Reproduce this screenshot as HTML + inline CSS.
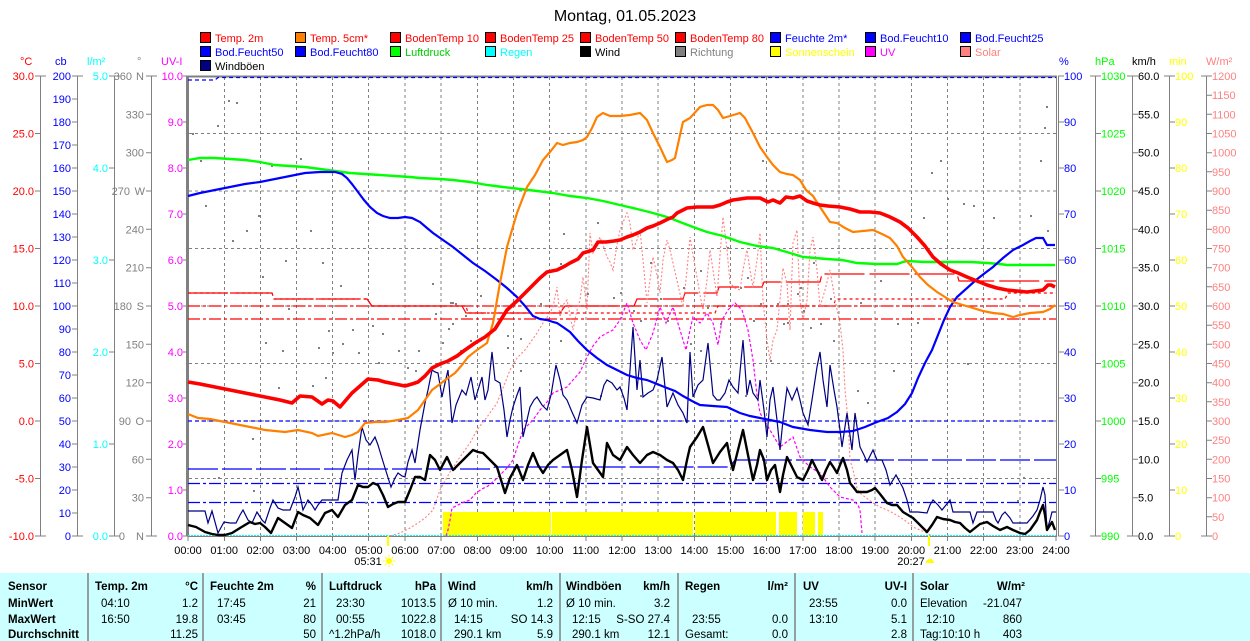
<!DOCTYPE html>
<html><head><meta charset="utf-8"><style>
html,body{margin:0;padding:0;background:#fff;}
svg{display:block;}
text{font-family:"Liberation Sans",Arial,sans-serif;}
</style></head><body>
<svg width="1250" height="641" viewBox="0 0 1250 641" xmlns="http://www.w3.org/2000/svg">
<rect width="1250" height="641" fill="#fff"/>
<!-- Title -->
<text x="625" y="21" font-size="16" text-anchor="middle" fill="#000">Montag, 01.05.2023</text>

<!-- Legend -->
<g font-size="11" stroke-width="1">
<rect x="200.5" y="32.5" width="10" height="10" fill="#f00" stroke="#000"/><text x="215" y="42" fill="#f00">Temp. 2m</text>
<rect x="295.5" y="32.5" width="10" height="10" fill="#ff8000" stroke="#000"/><text x="310" y="42" fill="#f00">Temp. 5cm*</text>
<rect x="390.5" y="32.5" width="10" height="10" fill="#f00" stroke="#000"/><text x="405" y="42" fill="#f00">BodenTemp 10</text>
<rect x="485.5" y="32.5" width="10" height="10" fill="#f00" stroke="#000"/><text x="500" y="42" fill="#f00">BodenTemp 25</text>
<rect x="580.5" y="32.5" width="10" height="10" fill="#f00" stroke="#000"/><text x="595" y="42" fill="#f00">BodenTemp 50</text>
<rect x="675.5" y="32.5" width="10" height="10" fill="#f00" stroke="#000"/><text x="690" y="42" fill="#f00">BodenTemp 80</text>
<rect x="770.5" y="32.5" width="10" height="10" fill="#00f" stroke="#000"/><text x="785" y="42" fill="#00f">Feuchte 2m*</text>
<rect x="865.5" y="32.5" width="10" height="10" fill="#00f" stroke="#000"/><text x="880" y="42" fill="#00f">Bod.Feucht10</text>
<rect x="960.5" y="32.5" width="10" height="10" fill="#00f" stroke="#000"/><text x="975" y="42" fill="#00f">Bod.Feucht25</text>

<rect x="200.5" y="46.5" width="10" height="10" fill="#00f" stroke="#000"/><text x="215" y="56" fill="#00f">Bod.Feucht50</text>
<rect x="295.5" y="46.5" width="10" height="10" fill="#00f" stroke="#000"/><text x="310" y="56" fill="#00f">Bod.Feucht80</text>
<rect x="390.5" y="46.5" width="10" height="10" fill="#0f0" stroke="#000"/><text x="405" y="56" fill="#0c0">Luftdruck</text>
<rect x="485.5" y="46.5" width="10" height="10" fill="#0ff" stroke="#000"/><text x="500" y="56" fill="#0ff">Regen</text>
<rect x="580.5" y="46.5" width="10" height="10" fill="#000" stroke="#000"/><text x="595" y="56" fill="#000">Wind</text>
<rect x="675.5" y="46.5" width="10" height="10" fill="#808080" stroke="#000"/><text x="690" y="56" fill="#808080">Richtung</text>
<rect x="770.5" y="46.5" width="10" height="10" fill="#ff0" stroke="#000"/><text x="785" y="56" fill="#ff0">Sonnenschein</text>
<rect x="865.5" y="46.5" width="10" height="10" fill="#f0f" stroke="#000"/><text x="880" y="56" fill="#f0f">UV</text>
<rect x="960.5" y="46.5" width="10" height="10" fill="#ff8080" stroke="#000"/><text x="975" y="56" fill="#ff8080">Solar</text>

<rect x="200.5" y="60.5" width="10" height="10" fill="#000080" stroke="#000"/><text x="215" y="70" fill="#000">Windböen</text>
</g>

<!-- Axis headers -->
<g font-size="11">
<text x="20" y="65" fill="#f00">°C</text>
<text x="55" y="65" fill="#00f">cb</text>
<text x="87" y="65" fill="#0ff">l/m²</text>
<text x="137" y="65" fill="#808080">°</text>
<text x="161" y="65" fill="#f0f">UV-I</text>
<text x="1059" y="65" fill="#00f">%</text>
<text x="1095" y="65" fill="#0f0">hPa</text>
<text x="1132" y="65" fill="#000">km/h</text>
<text x="1169" y="65" fill="#ff0">min</text>
<text x="1206" y="65" fill="#ff8080">W/m²</text>
</g>

<!-- Left axis lines & ticks -->
<g stroke="#808080" stroke-width="1" fill="none">
<path d="M40.5 76V536M77.5 76V536M114.5 76V536M151.5 76V536"/>
<path d="M35 76h11M35 133.5h6M35 191h6M35 248.5h6M35 306h6M35 363.5h6M35 421h6M35 478.5h6M35 536h11"/>
<path d="M72 76h11M72 99h6M72 122h6M72 145h6M72 168h6M72 191h6M72 214h6M72 237h6M72 260h6M72 283h6M72 306h6M72 329h6M72 352h6M72 375h6M72 398h6M72 421h6M72 444h6M72 467h6M72 490h6M72 513h6M72 536h11"/>
<path d="M109 76h11M109 168h6M109 260h6M109 352h6M109 444h6M109 536h11"/>
<path d="M146 76h11M146 114.3h6M146 152.7h6M146 191h6M146 229.3h6M146 267.7h6M146 306h6M146 344.3h6M146 382.7h6M146 421h6M146 459.3h6M146 497.7h6M146 536h11"/>
<path d="M183 76h5M183 122h5M183 168h5M183 214h5M183 260h5M183 306h5M183 352h5M183 398h5M183 444h5M183 490h5M183 536h5"/>
</g>
<g font-size="11" text-anchor="end">
<g fill="#f00">
<text x="34" y="80">30.0</text><text x="34" y="137.5">25.0</text><text x="34" y="195">20.0</text><text x="34" y="252.5">15.0</text><text x="34" y="310">10.0</text><text x="34" y="367.5">5.0</text><text x="34" y="425">0.0</text><text x="34" y="482.5">-5.0</text><text x="34" y="540">-10.0</text>
</g>
<g fill="#00f">
<text x="71" y="80">200</text><text x="71" y="103">190</text><text x="71" y="126">180</text><text x="71" y="149">170</text><text x="71" y="172">160</text><text x="71" y="195">150</text><text x="71" y="218">140</text><text x="71" y="241">130</text><text x="71" y="264">120</text><text x="71" y="287">110</text><text x="71" y="310">100</text><text x="71" y="333">90</text><text x="71" y="356">80</text><text x="71" y="379">70</text><text x="71" y="402">60</text><text x="71" y="425">50</text><text x="71" y="448">40</text><text x="71" y="471">30</text><text x="71" y="494">20</text><text x="71" y="517">10</text><text x="71" y="540">0</text>
</g>
<g fill="#0ff">
<text x="108" y="80">5.0</text><text x="108" y="172">4.0</text><text x="108" y="264">3.0</text><text x="108" y="356">2.0</text><text x="108" y="448">1.0</text><text x="108" y="540">0.0</text>
</g>
<g fill="#808080">
<text x="132" y="80">360</text><text x="144" y="80">N</text>
<text x="144" y="118.3">330</text>
<text x="144" y="156.7">300</text>
<text x="130" y="195">270</text><text x="145" y="195">W</text>
<text x="144" y="233.3">240</text>
<text x="144" y="271.7">210</text>
<text x="132" y="310">180</text><text x="144" y="310">S</text>
<text x="144" y="348.3">150</text>
<text x="144" y="386.7">120</text>
<text x="131" y="425">90</text><text x="144" y="425">O</text>
<text x="144" y="463.3">60</text>
<text x="144" y="501.7">30</text>
<text x="125" y="540">0</text><text x="144" y="540">N</text>
</g>
<g fill="#f0f">
<text x="183" y="80">10.0</text><text x="183" y="126">9.0</text><text x="183" y="172">8.0</text><text x="183" y="218">7.0</text><text x="183" y="264">6.0</text><text x="183" y="310">5.0</text><text x="183" y="356">4.0</text><text x="183" y="402">3.0</text><text x="183" y="448">2.0</text><text x="183" y="494">1.0</text><text x="183" y="540">0.0</text>
</g>
</g>

<!-- Right axis lines & ticks -->
<g stroke="#808080" stroke-width="1" fill="none">
<path d="M1056.5 76V536M1058.5 76V536M1095.5 76V536M1132.5 76V536M1169.5 76V536M1206.5 76V536"/>
<path d="M1058 76h6M1058 122h6M1058 168h6M1058 214h6M1058 260h6M1058 306h6M1058 352h6M1058 398h6M1058 444h6M1058 490h6M1058 536h6"/>
<path d="M1090 76h11M1095 133.5h6M1095 191h6M1095 248.5h6M1095 306h6M1095 363.5h6M1095 421h6M1095 478.5h6M1090 536h11"/>
<path d="M1127 76h11M1132 114.3h6M1132 152.7h6M1132 191h6M1132 229.3h6M1132 267.7h6M1132 306h6M1132 344.3h6M1132 382.7h6M1132 421h6M1132 459.3h6M1132 497.7h6M1127 536h11"/>
<path d="M1164 76h11M1169 122h6M1169 168h6M1169 214h6M1169 260h6M1169 306h6M1169 352h6M1169 398h6M1169 444h6M1169 490h6M1164 536h11"/>
<path d="M1201 76h11M1206 95.2h6M1206 114.3h6M1206 133.5h6M1206 152.7h6M1206 171.8h6M1206 191h6M1206 210.2h6M1206 229.3h6M1206 248.5h6M1206 267.7h6M1206 286.8h6M1206 306h6M1206 325.2h6M1206 344.3h6M1206 363.5h6M1206 382.7h6M1206 401.8h6M1206 421h6M1206 440.2h6M1206 459.3h6M1206 478.5h6M1206 497.7h6M1206 516.8h6M1201 536h11"/>
</g>
<g font-size="11">
<g fill="#00f">
<text x="1064" y="80">100</text><text x="1064" y="126">90</text><text x="1064" y="172">80</text><text x="1064" y="218">70</text><text x="1064" y="264">60</text><text x="1064" y="310">50</text><text x="1064" y="356">40</text><text x="1064" y="402">30</text><text x="1064" y="448">20</text><text x="1064" y="494">10</text><text x="1064" y="540">0</text>
</g>
<g fill="#0f0">
<text x="1101" y="80">1030</text><text x="1101" y="137.5">1025</text><text x="1101" y="195">1020</text><text x="1101" y="252.5">1015</text><text x="1101" y="310">1010</text><text x="1101" y="367.5">1005</text><text x="1101" y="425">1000</text><text x="1101" y="482.5">995</text><text x="1101" y="540">990</text>
</g>
<g fill="#000">
<text x="1138" y="80">60.0</text><text x="1138" y="118.3">55.0</text><text x="1138" y="156.7">50.0</text><text x="1138" y="195">45.0</text><text x="1138" y="233.3">40.0</text><text x="1138" y="271.7">35.0</text><text x="1138" y="310">30.0</text><text x="1138" y="348.3">25.0</text><text x="1138" y="386.7">20.0</text><text x="1138" y="425">15.0</text><text x="1138" y="463.3">10.0</text><text x="1138" y="501.7">5.0</text><text x="1138" y="540">0.0</text>
</g>
<g fill="#ff0">
<text x="1175" y="80">100</text><text x="1175" y="126">90</text><text x="1175" y="172">80</text><text x="1175" y="218">70</text><text x="1175" y="264">60</text><text x="1175" y="310">50</text><text x="1175" y="356">40</text><text x="1175" y="402">30</text><text x="1175" y="448">20</text><text x="1175" y="494">10</text><text x="1175" y="540">0</text>
</g>
<g fill="#ff8080">
<text x="1212" y="80">1200</text><text x="1212" y="99.2">1150</text><text x="1212" y="118.3">1100</text><text x="1212" y="137.5">1050</text><text x="1212" y="156.7">1000</text><text x="1212" y="175.8">950</text><text x="1212" y="195">900</text><text x="1212" y="214.2">850</text><text x="1212" y="233.3">800</text><text x="1212" y="252.5">750</text><text x="1212" y="271.7">700</text><text x="1212" y="290.8">650</text><text x="1212" y="310">600</text><text x="1212" y="329.2">550</text><text x="1212" y="348.3">500</text><text x="1212" y="367.5">450</text><text x="1212" y="386.7">400</text><text x="1212" y="405.8">350</text><text x="1212" y="425">300</text><text x="1212" y="444.2">250</text><text x="1212" y="463.3">200</text><text x="1212" y="482.5">150</text><text x="1212" y="501.7">100</text><text x="1212" y="520.8">50</text><text x="1212" y="540">0</text>
</g>
</g>

<!-- Plot grid -->
<g stroke="#808080" stroke-width="1" stroke-dasharray="3,3" fill="none">
<path d="M224.5 77V536M260.5 77V536M296.5 77V536M332.5 77V536M368.5 77V536M405 77V536M441 77V536M477.5 77V536M513.5 77V536M549.5 77V536M586 77V536M622 77V536M658 77V536M694.5 77V536M730.5 77V536M766.5 77V536M803 77V536M839 77V536M875 77V536M911.5 77V536M947.5 77V536M983.5 77V536M1020 77V536"/>
<path d="M189 133.5H1056M189 191H1056M189 248.5H1056M189 306H1056M189 363.5H1056M189 421H1056M189 478.5H1056"/>
</g>
<!-- frame -->
<rect x="186" y="76" width="3" height="460" fill="#808080"/>
<path d="M188 76.5H1057" stroke="#808080" stroke-width="2"/>
<path d="M188 536.5H1057" stroke="#808080" stroke-width="1"/>
<path d="M224.5 536v5M260.5 536v5M296.5 536v5M332.5 536v5M368.5 536v5M405 536v5M441 536v5M477.5 536v5M513.5 536v5M549.5 536v5M586 536v5M622 536v5M658 536v5M694.5 536v5M730.5 536v5M766.5 536v5M803 536v5M839 536v5M875 536v5M911.5 536v5M947.5 536v5M983.5 536v5M1020 536v5M1056 536v5M188 536v5" stroke="#808080"/>

<!-- Sunshine -->
<g fill="#ff0">
<rect x="443" y="512" width="108" height="24"/>
<rect x="552" y="512" width="141" height="24"/>
<rect x="695" y="512" width="81" height="24"/>
<rect x="779" y="512" width="18" height="24"/>
<rect x="803" y="512" width="12" height="24"/>
<rect x="818" y="512" width="5" height="24"/>
</g>

<!-- Constant soil lines -->
<g fill="none" stroke-width="1.2">
<path d="M188 80H215L218 77.5H1056" stroke="#00f" stroke-dasharray="4,3"/>
<path d="M188 421H1056" stroke="#00f" stroke-dasharray="4,3"/>
<path d="M188 469H490L495 467H730L735 460H1056" stroke="#00f" stroke-dasharray="30,4"/>
<path d="M188 483.5H1056" stroke="#00f" stroke-dasharray="12,3,3,3"/>
<path d="M188 502.5H1056" stroke="#00f" stroke-dasharray="12,3,3,3"/>
<path d="M188 306H1056" stroke="#f00" stroke-dasharray="12,3,3,3"/>
<path d="M188 319H1056" stroke="#f00" stroke-dasharray="12,3,3,3"/>
<path d="M188 293H272L274 299H367L372 306H466L468 313H715L718 306H833L836 299H1005L1008 293H1056" stroke="#f00" stroke-dasharray="3,3"/>
<path d="M188 293H272L274 299H367L372 306H462L466 313H560L565 306H634L637 299H683L685 293H717L719 287H762L764 282H820L822 274H957L959 281H1056" stroke="#f00" stroke-dasharray="40,5"/>
</g>

<!-- Regen -->
<path d="M188 535.5H1056" stroke="#0ff" stroke-width="1" stroke-dasharray="2,1"/>

<!-- Solar -->
<polyline fill="none" stroke="#ff8080" stroke-width="1.1" stroke-dasharray="2,2" points="390,536 400,533 410,528 418,523 425,518 433,510 440,490 450,472 460,457 470,443 477,430 487,417 497,403 503,388 510,370 517,358 525,350 530,343 537,333 543,323 550,313 553,307 557,287 560,317 563,305 567,300 570,315 573,330 577,310 580,300 583,277 587,310 590,233 593,253 597,245 600,237 603,245 607,257 610,262 613,270 617,245 620,230 624,220 627,213 630,223 633,250 637,240 640,230 643,260 647,303 650,280 653,257 657,275 660,293 663,260 667,240 670,250 673,263 678,285 683,307 687,270 690,237 693,255 697,277 700,295 703,310 707,280 710,250 713,270 717,297 720,255 723,217 727,250 730,283 735,288 740,290 743,270 747,250 750,270 753,287 757,260 760,233 763,300 767,340 770,360 773,340 777,330 780,300 783,268 787,283 790,330 793,243 797,230 800,300 803,320 807,300 810,250 813,237 817,270 820,307 825,290 830,270 835,300 840,323 843,350 845,390 848,420 850,460 853,470 857,488 860,493 865,497 873,503 880,507 887,510 893,513 900,517 907,522 913,527 920,530 927,533 932,536"/>

<!-- UV -->
<polyline fill="none" stroke="#f0f" stroke-width="1.2" stroke-dasharray="3,2" points="446,536 448,530 450,520 452,508 458,505 464,502 470,500 476,493 482,489 488,486 494,481 500,475 507,468 513,460 518,445 523,430 528,425 533,420 540,410 547,402 553,393 560,390 567,387 573,380 580,372 587,357 593,346 600,337 607,333 613,330 620,320 627,303 633,323 640,340 646,350 653,333 660,307 666,323 673,307 680,330 686,350 690,330 693,317 700,323 707,313 713,323 718,345 722,320 728,310 735,303 742,310 748,330 753,360 757,395 760,413 770,430 780,447 793,437 800,457 810,467 820,473 830,487 840,497 853,500 858,505 860,510 862,533"/>

<!-- Richtung dots -->
<path fill="#808080" d="M228 100h2v2h-2zM236 102h2v2h-2zM192 133h2v2h-2zM200 160h2v2h-2zM217 125h2v2h-2zM246 230h2v2h-2zM232 240h2v2h-2zM262 276h2v2h-2zM271 165h2v2h-2zM300 158h2v2h-2zM205 205h2v2h-2zM258 215h2v2h-2zM285 260h2v2h-2zM310 230h2v2h-2zM322 262h2v2h-2zM340 285h2v2h-2zM288 308h2v2h-2zM282 350h2v2h-2zM265 342h2v2h-2zM252 438h2v2h-2zM278 387h2v2h-2zM312 385h2v2h-2zM318 347h2v2h-2zM328 330h2v2h-2zM332 352h2v2h-2zM342 343h2v2h-2zM325 377h2v2h-2zM352 329h2v2h-2zM358 352h2v2h-2zM372 325h2v2h-2zM378 362h2v2h-2zM382 333h2v2h-2zM398 350h2v2h-2zM407 367h2v2h-2zM418 350h2v2h-2zM415 370h2v2h-2zM432 283h2v2h-2zM435 313h2v2h-2zM442 342h2v2h-2zM448 328h2v2h-2zM452 302h2v2h-2zM455 303h2v2h-2zM465 315h2v2h-2zM480 295h2v2h-2zM218 477h2v2h-2zM253 490h2v2h-2zM365 502h2v2h-2zM450 302h2v2h-2zM452 323h2v2h-2zM460 350h2v2h-2zM470 340h2v2h-2zM507 335h2v2h-2zM520 338h2v2h-2zM540 303h2v2h-2zM560 263h2v2h-2zM563 233h2v2h-2zM587 293h2v2h-2zM597 222h2v2h-2zM613 297h2v2h-2zM620 292h2v2h-2zM633 310h2v2h-2zM640 320h2v2h-2zM660 298h2v2h-2zM667 320h2v2h-2zM683 287h2v2h-2zM690 343h2v2h-2zM707 307h2v2h-2zM720 323h2v2h-2zM727 247h2v2h-2zM740 287h2v2h-2zM747 277h2v2h-2zM753 320h2v2h-2zM762 160h2v2h-2zM783 323h2v2h-2zM787 303h2v2h-2zM797 293h2v2h-2zM803 310h2v2h-2zM820 323h2v2h-2zM833 340h2v2h-2zM507 347h2v2h-2zM923 217h2v2h-2zM947 198h2v2h-2zM963 203h2v2h-2zM973 205h2v2h-2zM993 217h2v2h-2zM1030 215h2v2h-2zM1047 230h2v2h-2zM813 262h2v2h-2zM800 287h2v2h-2zM830 298h2v2h-2zM860 302h2v2h-2zM897 323h2v2h-2zM917 322h2v2h-2zM880 280h2v2h-2zM857 390h2v2h-2zM867 402h2v2h-2zM893 370h2v2h-2zM967 363h2v2h-2zM1017 500h2v2h-2zM1023 477h2v2h-2zM810 327h2v2h-2zM787 322h2v2h-2zM760 303h2v2h-2zM777 303h2v2h-2zM1046 106h2v2h-2zM1040 160h2v2h-2zM931 172h2v2h-2zM940 160h2v2h-2zM1044 127h2v2h-2zM560 340h2v2h-2zM580 360h2v2h-2zM600 395h2v2h-2zM650 420h2v2h-2zM700 350h2v2h-2zM710 420h2v2h-2zM745 395h2v2h-2zM770 360h2v2h-2zM700 270h2v2h-2zM650 262h2v2h-2zM520 370h2v2h-2zM490 420h2v2h-2zM640 395h2v2h-2z"/>

<!-- Windböen -->
<polyline fill="none" stroke="#000080" stroke-width="1.2" points="188,511 205,511 208,523 212,511 218,533 224,522 230,523 236,523 240,515 243,510 248,520 252,523 257,512 262,520 265,523 270,508 273,500 278,508 283,510 290,510 295,497 298,487 301,500 303,510 308,500 312,505 315,510 318,505 322,500 330,500 338,500 342,473 347,460 352,450 355,480 358,455 362,427 366,440 370,445 375,437 378,445 381,455 385,468 391,487 395,478 398,473 402,476 405,477 408,462 412,450 415,463 420,430 425,403 428,390 432,370 435,372 438,373 442,397 445,383 448,370 452,423 456,405 462,390 466,395 471,377 475,400 478,390 482,377 485,400 488,390 492,352 495,380 500,383 504,410 507,437 510,420 513,407 517,395 520,387 523,437 527,420 530,407 534,400 537,397 542,405 547,410 551,395 556,365 560,380 563,395 567,400 572,412 577,423 582,405 587,397 593,398 600,400 604,385 607,380 612,383 617,390 620,387 624,398 627,410 630,370 633,327 637,390 640,360 643,397 648,393 653,390 657,380 662,357 667,407 670,400 673,393 678,405 683,413 687,423 690,352 693,397 698,385 703,380 708,343 713,395 717,400 720,400 725,393 729,380 733,387 738,393 743,340 747,395 750,380 753,393 758,400 760,380 764,410 767,437 770,400 773,387 777,420 780,450 783,420 787,388 792,400 797,388 800,400 803,413 808,425 812,400 817,367 820,352 823,380 827,407 830,365 834,390 837,407 840,430 842,447 847,413 852,450 855,413 860,447 864,455 867,462 873,450 877,460 882,460 886,470 890,485 896,475 903,488 907,500 910,512 918,512 927,513 930,505 933,500 938,505 942,510 946,505 950,500 953,512 960,512 970,512 973,523 977,512 993,512 996,520 998,523 1002,515 1005,512 1010,518 1013,523 1020,523 1027,523 1033,516 1037,510 1040,500 1043,487 1045,495 1047,530 1050,520 1052,512 1056,512"/>

<!-- Wind -->
<polyline fill="none" stroke="#000" stroke-width="2.4" stroke-linejoin="round" points="188,525 196,527 205,532 212,534 218,535 225,535 232,533 240,528 245,525 250,522 255,524 260,523 265,527 271,533 278,518 285,523 292,528 298,512 303,515 310,518 318,525 325,513 332,510 338,517 345,505 352,500 358,485 363,487 368,487 373,483 378,485 383,495 388,507 393,504 398,502 405,502 410,490 415,477 420,477 425,480 430,455 435,460 440,470 447,457 453,470 458,465 463,460 468,455 473,450 478,452 483,453 490,460 497,467 501,480 505,493 510,478 517,465 523,480 528,465 533,453 538,465 543,473 548,465 553,460 560,455 567,450 572,470 577,497 582,460 587,427 590,445 593,463 598,470 603,477 607,443 613,455 620,460 627,447 633,455 640,463 647,455 653,452 660,455 667,460 673,463 678,470 683,480 687,460 690,447 697,437 703,427 708,445 713,463 720,452 727,443 730,458 733,470 738,450 743,430 748,455 753,480 757,465 760,450 764,460 767,480 771,470 775,465 780,492 783,475 787,457 792,467 797,477 803,480 808,470 812,460 817,470 822,480 826,470 830,462 834,468 837,473 840,465 843,458 847,470 850,483 854,488 857,492 862,492 867,492 872,490 875,488 880,494 887,503 892,505 897,505 903,512 908,515 913,518 920,525 927,532 932,525 937,517 943,519 950,520 955,522 960,523 965,528 970,532 975,528 980,524 987,522 993,526 1000,530 1007,527 1013,530 1020,533 1025,534 1030,530 1037,520 1040,512 1043,505 1045,515 1047,530 1050,525 1052,522 1055,530"/>

<!-- Luftdruck -->
<polyline fill="none" stroke="#0f0" stroke-width="2.4" points="188,160 200,158 215,158 230,159 245,160 260,162 275,165 290,166 305,167 320,169 335,171 350,173 365,174 380,175 395,176 410,177 420,178 440,179 453,180 470,182 487,185 503,187 520,189 537,191 553,193 570,196 587,198 603,201 620,205 637,209 653,213 667,217 680,222 693,227 707,232 723,236 740,242 757,246 773,248 790,253 803,257 815,258 827,259 842,260 857,263 877,264 897,264 903,262 907,261 925,262 950,262 970,262 987,263 1000,264 1007,265 1025,265 1043,265 1055,265"/>

<!-- Feuchte 2m -->
<polyline fill="none" stroke="#00f" stroke-width="2.2" points="188,196 200,193 215,190 230,187 245,184 260,182 275,179 290,176 305,173 320,172 335,172 342,174 347,178 352,184 358,192 364,200 370,207 377,213 383,216 390,218 398,218 405,217 412,218 420,222 427,228 433,233 443,240 453,247 463,255 473,263 485,271 497,280 507,288 517,297 525,306 533,316 540,319 547,320 553,322 557,323 563,327 570,332 578,341 587,350 597,358 607,365 617,370 627,375 637,378 647,380 657,384 667,388 675,391 683,396 692,401 700,405 713,406 727,407 740,413 750,416 760,418 770,420 780,422 793,427 810,430 827,432 840,432 853,431 865,427 877,422 888,418 897,412 905,404 912,393 918,378 925,363 932,350 938,335 944,320 950,307 957,297 966,289 976,280 985,273 993,267 1003,258 1013,250 1023,245 1030,241 1036,238 1043,238 1047,245 1055,245"/>

<!-- Temp 5cm -->
<polyline fill="none" stroke="#ff8000" stroke-width="2.2" points="188,414 198,418 210,419 225,422 245,426 265,430 285,432 298,430 312,433 318,436 332,433 345,437 352,435 358,432 365,423 375,422 385,422 398,420 408,418 418,410 425,400 432,390 440,384 448,378 455,373 462,365 468,357 477,350 487,343 493,323 500,283 507,247 517,213 527,187 535,175 543,160 550,152 557,143 563,145 570,143 577,142 583,140 587,137 592,128 597,117 603,113 610,116 620,116 630,115 640,113 647,120 653,133 660,147 667,162 672,160 675,158 680,135 683,122 690,118 700,107 707,105 713,105 718,110 723,118 730,116 740,113 745,118 753,133 760,147 767,157 773,165 780,172 787,174 793,175 800,180 806,190 813,196 820,207 830,222 837,223 845,228 853,232 863,231 873,230 882,234 890,238 897,246 903,257 912,267 920,277 928,285 937,292 945,297 953,302 963,305 973,308 983,311 993,313 1003,314 1013,317 1020,315 1030,313 1043,312 1050,309 1055,305"/>

<!-- Temp 2m -->
<polyline fill="none" stroke="#f00" stroke-width="3.6" stroke-linejoin="round" points="188,382 200,384 215,387 230,390 245,393 255,395 265,397 280,400 292,403 300,396 312,397 322,404 328,400 333,401 340,407 346,400 352,393 360,386 368,379 378,380 385,382 395,384 405,386 412,384 418,382 425,376 432,368 440,364 448,361 457,356 465,350 475,343 485,337 495,329 507,310 518,300 530,288 540,278 547,272 557,270 565,266 570,263 578,259 583,253 593,250 598,242 606,242 614,241 620,240 627,237 633,235 640,232 647,228 653,226 660,223 668,219 673,217 677,213 687,208 697,207 705,207 713,207 720,205 727,202 733,200 740,199 747,198 753,198 760,198 768,202 773,200 780,203 786,197 793,198 800,196 807,201 813,203 820,205 828,206 840,207 850,209 860,212 870,212 880,213 890,217 900,222 908,228 917,237 925,246 933,257 941,264 950,270 958,273 967,277 977,281 987,285 997,288 1007,290 1017,291 1027,292 1035,291 1043,290 1048,285 1051,285 1055,287"/>

<!-- X axis labels -->
<g font-size="11" text-anchor="middle" fill="#000">
<text x="188" y="554">00:00</text><text x="224.2" y="554">01:00</text><text x="260.3" y="554">02:00</text><text x="296.5" y="554">03:00</text><text x="332.7" y="554">04:00</text><text x="368.8" y="554">05:00</text><text x="405" y="554">06:00</text><text x="441.2" y="554">07:00</text><text x="477.3" y="554">08:00</text><text x="513.5" y="554">09:00</text><text x="549.7" y="554">10:00</text><text x="585.8" y="554">11:00</text><text x="622" y="554">12:00</text><text x="658.2" y="554">13:00</text><text x="694.3" y="554">14:00</text><text x="730.5" y="554">15:00</text><text x="766.7" y="554">16:00</text><text x="802.8" y="554">17:00</text><text x="839" y="554">18:00</text><text x="875.2" y="554">19:00</text><text x="911.3" y="554">20:00</text><text x="947.5" y="554">21:00</text><text x="983.7" y="554">22:00</text><text x="1019.8" y="554">23:00</text><text x="1056" y="554">24:00</text>
<text x="368" y="565">05:31</text>
<text x="911" y="565">20:27</text>
</g>
<rect x="387" y="536" width="2" height="10" fill="#ff0"/>
<rect x="928" y="536" width="2" height="10" fill="#ff0"/>
<circle cx="389" cy="561" r="3" fill="#ff0"/>
<path d="M389 555v2M389 565v2M383 561h2M393 561h2M385 557l1.5 1.5M393 557l-1.5 1.5M385 565l1.5-1.5M393 565l-1.5-1.5" stroke="#ff0" stroke-width="1"/>
<path d="M926 563a4 4 0 0 1 8 0z" fill="#ff0"/>

<!-- Table -->
<rect x="0" y="573" width="1250" height="68" fill="#ccffff"/>
<path d="M88 573V641M203 573V641M322 573V641M441 573V641M560 573V641M678 573V641M795 573V641M913 573V641" stroke="#808080" stroke-width="1.5"/>
<g font-size="11.5" fill="#000">
<g font-weight="bold">
<text x="8" y="590">Sensor</text><text x="8" y="607">MinWert</text><text x="8" y="623">MaxWert</text><text x="8" y="638">Durchschnitt</text>
<text x="95" y="590">Temp. 2m</text><text x="198" y="590" text-anchor="end">°C</text>
<text x="210" y="590">Feuchte 2m</text><text x="316" y="590" text-anchor="end">%</text>
<text x="329" y="590">Luftdruck</text><text x="436" y="590" text-anchor="end">hPa</text>
<text x="448" y="590">Wind</text><text x="553" y="590" text-anchor="end">km/h</text>
<text x="566" y="590">Windböen</text><text x="670" y="590" text-anchor="end">km/h</text>
<text x="685" y="590">Regen</text><text x="788" y="590" text-anchor="end">l/m²</text>
<text x="803" y="590">UV</text><text x="907" y="590" text-anchor="end">UV-I</text>
<text x="920" y="590">Solar</text><text x="1025" y="590" text-anchor="end">W/m²</text>
</g>
<text x="101" y="607">04:10</text><text x="198" y="607" text-anchor="end">1.2</text>
<text x="101" y="623">16:50</text><text x="198" y="623" text-anchor="end">19.8</text>
<text x="198" y="638" text-anchor="end">11.25</text>
<text x="217" y="607">17:45</text><text x="316" y="607" text-anchor="end">21</text>
<text x="217" y="623">03:45</text><text x="316" y="623" text-anchor="end">80</text>
<text x="316" y="638" text-anchor="end">50</text>
<text x="336" y="607">23:30</text><text x="436" y="607" text-anchor="end">1013.5</text>
<text x="336" y="623">00:55</text><text x="436" y="623" text-anchor="end">1022.8</text>
<text x="329" y="638">^1.2hPa/h</text><text x="436" y="638" text-anchor="end">1018.0</text>
<text x="448" y="607">Ø 10 min.</text><text x="553" y="607" text-anchor="end">1.2</text>
<text x="454" y="623">14:15</text><text x="553" y="623" text-anchor="end">SO 14.3</text>
<text x="454" y="638">290.1 km</text><text x="553" y="638" text-anchor="end">5.9</text>
<text x="566" y="607">Ø 10 min.</text><text x="670" y="607" text-anchor="end">3.2</text>
<text x="572" y="623">12:15</text><text x="670" y="623" text-anchor="end">S-SO 27.4</text>
<text x="572" y="638">290.1 km</text><text x="670" y="638" text-anchor="end">12.1</text>
<text x="692" y="623">23:55</text><text x="788" y="623" text-anchor="end">0.0</text>
<text x="685" y="638">Gesamt:</text><text x="788" y="638" text-anchor="end">0.0</text>
<text x="809" y="607">23:55</text><text x="907" y="607" text-anchor="end">0.0</text>
<text x="809" y="623">13:10</text><text x="907" y="623" text-anchor="end">5.1</text>
<text x="907" y="638" text-anchor="end">2.8</text>
<text x="920" y="607">Elevation</text><text x="1022" y="607" text-anchor="end">-21.047</text>
<text x="926" y="623">12:10</text><text x="1022" y="623" text-anchor="end">860</text>
<text x="920" y="638">Tag:10:10 h</text><text x="1022" y="638" text-anchor="end">403</text>
</g>
</svg>
</body></html>
